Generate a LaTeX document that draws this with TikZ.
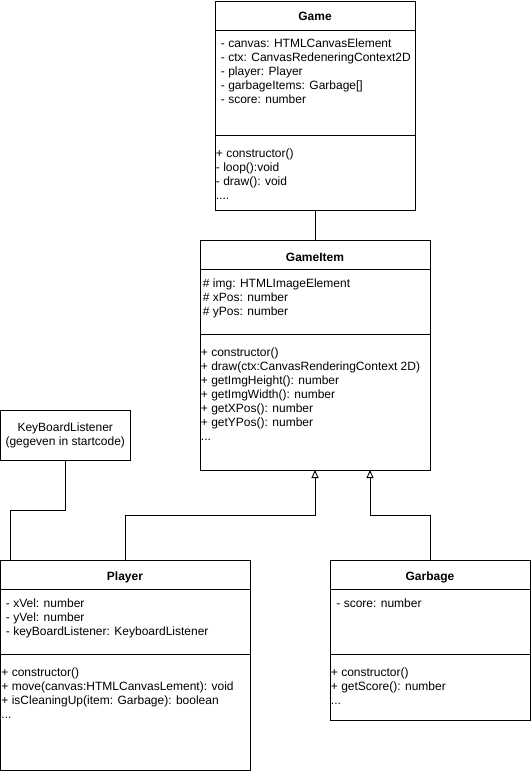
\documentclass[tikz,border=0pt]{standalone}
\usepackage{fontspec}
\setmainfont{Liberation Sans}
\usetikzlibrary{arrows.meta,positioning}

\begin{document}
\begin{tikzpicture}[x=1pt,y=-1pt,line width=0.9pt,
    font=\fontsize{12}{14}\selectfont,
    classbox/.style={draw,rectangle,anchor=north west,inner sep=0pt,outer sep=0pt},
    classname/.style={anchor=base,font=\fontsize{12}{14}\selectfont\bfseries},
    members/.style={anchor=north west,align=left,inner sep=0pt},
    inherit/.style={-{Triangle[open,length=8pt,width=7pt]}}]
    \fill[white] (0,0) rectangle (531,771);

    % Game
    \node[classbox,minimum width=200pt,minimum height=209pt] (game) at (215,1) {};
    \draw (215,30) -- (415,30);
    \draw (215,135) -- (415,135);
    \node[classname] (gamename) at (315,20.5) {Game};
    \node[members] (gameattrs) at (220.5,37.5) {\strut- canvas: HTMLCanvasElement\\- ctx: CanvasRedeneringContext2D\\- player: Player\\- garbageItems: Garbage[]\\- score: number};
    \node[members] (gameops) at (215.5,147.5) {\strut+ constructor()\\- loop():void\\- draw(): void\\....};

    % GameItem
    \node[classbox,minimum width=230pt,minimum height=230pt] (gameitem) at (200,240) {};
    \draw (200,269) -- (430,269);
    \draw (200,334) -- (430,334);
    \node[classname] (gameitemname) at (315,261) {GameItem};
    \node[members] (gameitemattrs) at (202.5,277.5) {\strut\# img: HTMLImageElement\\\# xPos: number\\\# yPos: number};
    \node[members] (gameitemops) at (200.5,346.5) {\strut+ constructor()\\+ draw(ctx:CanvasRenderingContext 2D)\\+ getImgHeight(): number\\+ getImgWidth(): number\\+ getXPos(): number\\+ getYPos(): number\\...};

    % KeyBoardListener
    \node[draw,rectangle,inner sep=0pt,outer sep=0pt,minimum width=129.5pt,minimum height=50pt,align=center] (keylistener) at (65.25,435.5) {KeyBoardListener\\(gegeven in startcode)};

    % Player
    \node[classbox,minimum width=249.5pt,minimum height=210pt] (player) at (0.5,560) {};
    \draw (0.5,589) -- (250,589);
    \draw (0.5,654) -- (250,654);
    \node[classname] (playername) at (125,580) {Player};
    \node[members] (playerattrs) at (5.5,597.5) {\strut- xVel: number\\- yVel: number\\- keyBoardListener: KeyboardListener};
    \node[members] (playerops) at (1,666.5) {\strut+ constructor()\\+ move(canvas:HTMLCanvasLement): void\\+ isCleaningUp(item: Garbage): boolean\\...};

    % Garbage
    \node[classbox,minimum width=200pt,minimum height=160pt] (garbage) at (330,560) {};
    \draw (330,589) -- (530,589);
    \draw (330,654) -- (530,654);
    \node[classname] (garbagename) at (430,580) {Garbage};
    \node[members] (garbageattrs) at (336,597.5) {\strut- score: number};
    \node[members] (garbageops) at (330.5,666.5) {\strut+ constructor()\\+ getScore(): number\\...};

    % connectors
    \draw (game.south) -- (gameitem.north);
    \draw[inherit] (player.north) -- ++(0,-45) -| (gameitem.south);
    \draw[inherit] (garbage.north) -- ++(0,-45) -| ([xshift=55pt]gameitem.south);
    \draw (keylistener.south) -- ++(0,50) -| ([xshift=10pt]player.north west);
\end{tikzpicture}
\end{document}
